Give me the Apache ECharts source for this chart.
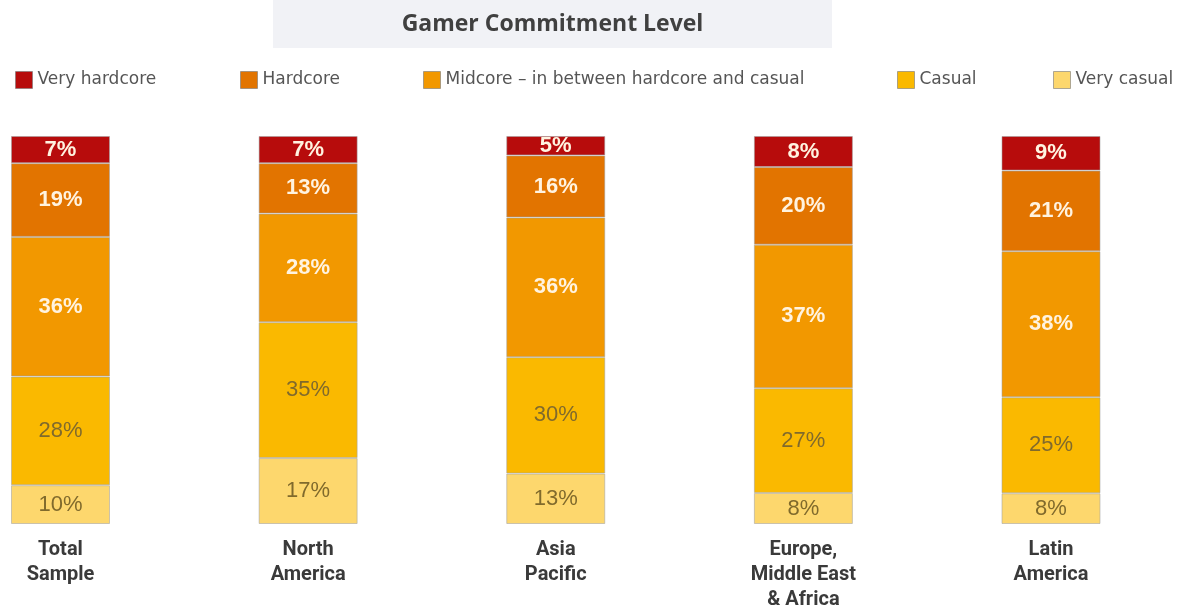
<!DOCTYPE html>
<html>
<head>
<meta charset="utf-8">
<script src="https://cdn.jsdelivr.net/npm/echarts@6/dist/echarts.min.js"></script>
<style>
  html, body { margin: 0; padding: 0; background: #ffffff; }
  #chart { width: 1180px; height: 610px; }
</style>
</head>
<body>
<div id="chart"></div>
<script>
// Regions along the x axis
const categories = ['Total\nSample', 'North\nAmerica', 'Asia\nPacific', 'Europe,\nMiddle East\n& Africa', 'Latin\nAmerica'];

// Share of gamers per commitment level (%), per region
const veryHardcore = [7, 7, 5, 8, 9];
const hardcore = [19, 13, 16, 20, 21];
const midcore = [36, 28, 36, 37, 38];
const casual = [28, 35, 30, 27, 25];
const veryCasual = [10, 17, 13, 8, 8];

const levelNames = ['Very hardcore', 'Hardcore', 'Midcore – in between hardcore and casual', 'Casual', 'Very casual'];
const levelColors = ['#b70c0c', '#e27400', '#f29800', '#fab900', '#fdd76d'];

// Each column is drawn as a 100% stack of its own values
const levels = [veryHardcore, hardcore, midcore, casual, veryCasual];
const totals = categories.map((_, i) => levels.reduce((s, arr) => s + arr[i], 0));

function makeSeries(idx, darkLabel) {
  const raw = levels[idx];
  return {
    name: levelNames[idx],
    type: 'bar',
    stack: 'share',
    barWidth: 99,
    data: raw.map((v, i) => v / totals[i] * 100),
    itemStyle: {
      color: levelColors[idx],
      borderColor: 'rgba(160,160,160,0.55)',
      borderWidth: 1
    },
    label: {
      show: true,
      position: 'inside',
      formatter: p => raw[p.dataIndex] + '%',
      fontFamily: 'Liberation Sans',
      fontSize: 22,
      fontWeight: darkLabel ? 'normal' : 'bold',
      color: darkLabel ? '#806a2c' : '#fff3e0'
    },
    emphasis: { disabled: true }
  };
}

// Bottom of the stack first
const series = [
  makeSeries(4, true),
  makeSeries(3, true),
  makeSeries(2, false),
  makeSeries(1, false),
  makeSeries(0, false)
];

const legendLefts = [10, 235, 418, 892, 1048];
const legends = levelNames.map((name, i) => ({
  data: [{ name: name, icon: 'rect' }],
  left: legendLefts[i],
  top: 66,
  itemWidth: 17,
  itemHeight: 17,
  itemGap: 0,
  selectedMode: false,
  itemStyle: { borderColor: 'rgba(120,120,120,0.6)', borderWidth: 1 },
  textStyle: { fontFamily: 'DejaVu Sans', fontSize: 17, color: '#555555' }
}));

const chart = echarts.init(document.getElementById('chart'));
chart.setOption({
  animation: false,
  backgroundColor: '#ffffff',
  graphic: [
    {
      type: 'rect',
      shape: { x: 273, y: 0, width: 559, height: 48 },
      style: { fill: '#f1f2f6' },
      silent: true
    },
    {
      type: 'text',
      x: 552.5,
      y: 24,
      style: {
        text: 'Gamer Commitment Level',
        fill: '#404040',
        font: 'bold 23px "Open Sans"',
        textAlign: 'center',
        textVerticalAlign: 'middle'
      },
      silent: true
    }
  ],
  legend: legends,
  grid: { left: 60.5, right: 129, top: 136, bottom: 86, containLabel: false, outerBoundsMode: 'none' },
  xAxis: {
    type: 'category',
    data: categories,
    boundaryGap: false,
    axisLine: { show: false },
    axisTick: { show: false },
    splitLine: { show: false },
    axisLabel: {
      margin: 13,
      fontFamily: 'Roboto',
      fontWeight: 'bold',
      fontSize: 20,
      lineHeight: 25,
      color: '#3a3a3a',
      interval: 0
    }
  },
  yAxis: {
    type: 'value',
    min: 0,
    max: 100,
    show: false
  },
  series: series
});
</script>
</body>
</html>
